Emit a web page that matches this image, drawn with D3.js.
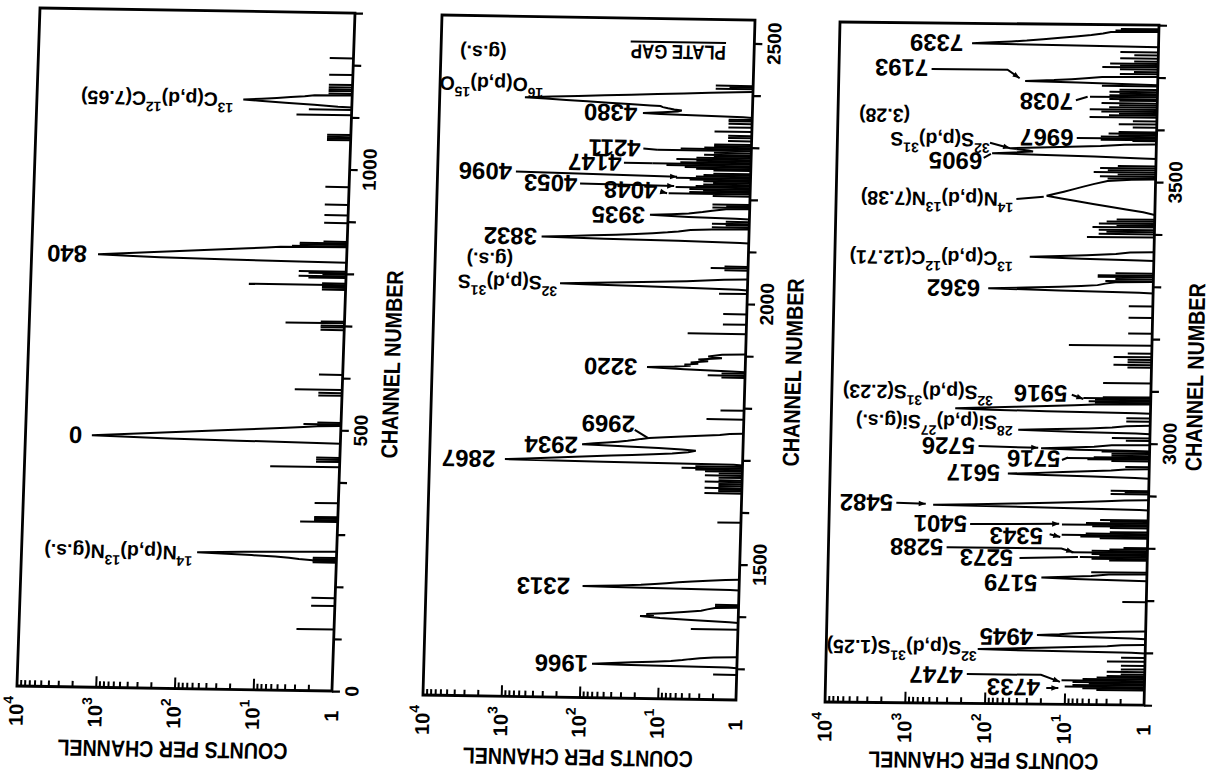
<!DOCTYPE html>
<html><head><meta charset="utf-8">
<script src="https://cdn.jsdelivr.net/npm/d3@7"></script>
<style>
html,body{margin:0;padding:0;background:#fff;}
svg{display:block;}
text{font-family:"Liberation Sans",Arial,sans-serif;font-weight:bold;fill:#000;}
</style></head><body>
<svg id="chart" width="1212" height="776"></svg>
<script>
// ---------------- DATA ----------------
// counts-axis tick values and labels
const countTicks = [1e4, 1e3, 1e2, 1e1, 1];
const countTickLabels = ["10^4", "10^3", "10^2", "10^1", "1"];
// channel tick labels per panel
const chanLabels1 = [0, 500, 1000];
const chanLabels2 = [1500, 2000, 2500];
const chanLabels3 = [3000, 3500];
// channel ranges per panel
const chanRange1 = [0, 1300];
const chanRange2 = [1240, 2545];
const chanRange3 = [2500, 3800];

// isolated channels: [channel, counts]
const spikes1 = [[118,3],[163,2],[178,2],[246,2],[249,2],[252,2],[255,2],[324,3],[327,2],[330,2],[333,2],[360,2],[429,7.6],[439,2],[443,2],[447,2],[508,2],[511,3],[514,2],[566,2],[571,2],[577,4],[606,2],[692,2],[697,2],[700,2],[705,5.6],[708,2],[769,2],[773,2],[776,2],[778,17],[781,2],[792,3],[795,4],[798,2],[801,3],[804,4],[852,5],[855,4],[858,4],[861,2],[897,2],[912,2],[932,2],[966,2],[1056,2],[1059,2],[1062,2],[1066,2],[1104,5],[1114,3.5],[1145,2],[1150,2],[1153,2],[1157,2],[1162,2],[1181,2],[1213,2]];
// peaks: runs of consecutive channels
const peaks1 = [
  [[250,2],[252,3],[254,4],[256,6],[258,12],[260,25],[262,59],[264,15],[266,3]],
  [[475,2],[477,20],[479,150],[481,500],[483,1436],[485,810],[487,460],[489,260],[491,150],[493,84],[495,48],[497,27],[499,15],[501,8.6],[503,4.9],[505,3],[507,2]],
  [[822,4],[824,30],[826,234],[828,600],[830,1436],[832,830],[834,480],[836,280],[838,160],[840,93],[842,54],[844,31],[846,18],[848,10.5],[850,7]],
  [[1120,1.5],[1123,3],[1126,7],[1129,15],[1131,24],[1133,14],[1135,9],[1137,6],[1139,4],[1141,3]]
];

const spikes2 = [[1288,2],[1375,4],[1419,2],[1422,2],[1580,2],[1636,3],[1640,2],[1643,2],[1646,3],[1650,2],[1654,2],[1658,3],[1661,2],[1666,2],[1670,3],[1674,2],[1678,3],[1681,4],[1684,6],[1687,4],[1778,3],[1795,2],[1858,2],[1862,3],[1866,2],[1942,5.6],[1960,2],[1980,2],[2019,2.3],[2064,2],[2068,3],[2071,2],[2146,3],[2150,2],[2153,3],[2157,2],[2184,3],[2187,2],[2190,3],[2206,3],[2210,11],[2213,6],[2216,4],[2219,6],[2222,9],[2225,5],[2228,4],[2231,3],[2234,4],[2237,6],[2240,9],[2243,5],[2246,4],[2249,3],[2255,3],[2258,5],[2261,7],[2264,12],[2267,18],[2270,8],[2273,5],[2276,9],[2279,5],[2282,3],[2285,4],[2289,3],[2293,16],[2296,8],[2299,4],[2302,3],[2305,3],[2312,2],[2318,2],[2322,2],[2330,3],[2338,2],[2345,2],[2350,2],[2353,2],[2412,3],[2415,2],[2418,3]];
const peaks2 = [
  [[1302,1.3],[1304,30],[1305,71],[1307,40],[1309,22],[1311,12],[1313,7],[1315,5],[1317,4],[1319,3],[1321,2]],
  [[1389,1.3],[1392,4],[1395,10],[1398,18],[1400,12],[1402,15],[1404,9],[1407,5],[1410,3],[1413,2.5],[1416,2]],
  [[1451,1.3],[1453,40],[1454,100],[1455,60],[1456,35],[1458,18],[1460,12],[1462,8.5],[1464,6],[1466,4],[1468,2.5],[1470,1.5]],
  [[1691,1.3],[1693,60],[1695,1090],[1697,580],[1699,310],[1701,170],[1703,90],[1705,48],[1707,26],[1709,14],[1711,8],[1714,5],[1717,4],[1719,6],[1721,12],[1723,30],[1725,70],[1726,114],[1728,80],[1730,55],[1732,40],[1734,30],[1736,24],[1738,20],[1740,16],[1742,10],[1744,6],[1746,3.5],[1748,2],[1750,1.5]],
  [[1870,1.5],[1873,6],[1876,18],[1878,8],[1880,5],[1882,6],[1884,4],[1886,5],[1889,3],[1892,4],[1895,2],[1898,3],[1902,2]],
  [[2027,1.3],[2029,5],[2031,25],[2033,120],[2034,249],[2036,90],[2038,35],[2040,14],[2042,6],[2044,3.5],[2046,2]],
  [[2117,1.3],[2119,8],[2121,70],[2123,445],[2125,200],[2127,100],[2129,50],[2131,28],[2133,17],[2135,11],[2137,8],[2140,5.6],[2142,3]],
  [[2163,1.5],[2165,6],[2168,18.7],[2170,10],[2172,6],[2175,4],[2178,3],[2181,2]],
  [[2358,1.3],[2360,4],[2362,15],[2363,25],[2365,14],[2367,9],[2369,8],[2371,10],[2373,12],[2375,14],[2377,15],[2378,20],[2380,38],[2382,70],[2384,130],[2386,240],[2388,440],[2390,815],[2392,370],[2394,170],[2396,78],[2398,36],[2400,16.5],[2402,7.6],[2404,3.5],[2406,1.6]]
];

const spikes3 = [[2528,4],[2531,6],[2534,10],[2537,8],[2540,5],[2543,8],[2546,11],[2549,6],[2552,4],[2555,3],[2558,2],[2563,3],[2568,2],[2575,2],[2583,3],[2590,2],[2697,2],[2753,5],[2776,3],[2779,5],[2782,7],[2785,4],[2788,5],[2791,9],[2794,5],[2797,3],[2800,2],[2818,4],[2821,7],[2824,12],[2827,6],[2830,3],[2838,3],[2841,5],[2844,12],[2847,6],[2850,3],[2853,4],[2903,3],[2906,2],[2909,3],[2955,2],[2966,3],[2969,6],[2971,11],[2973,5],[2976,3],[2980,3],[2984,4],[3005,2],[3010,3],[3042,2],[3048,2],[3077,5],[3080,6],[3083,5],[3086,7],[3088,4],[3115,4],[3145,2],[3150,3],[3155,2],[3160,2],[3165,3],[3172,2],[3187,11],[3210,2],[3240,2],[3262,2],[3310,4],[3314,3],[3318,5],[3321,5],[3325,3],[3394,7],[3400,5],[3404,4],[3408,5],[3413,6],[3416,3],[3420,5],[3424,4],[3428,3],[3506,4],[3510,5],[3514,3],[3518,6],[3522,4],[3526,5],[3530,3],[3578,2],[3580,5],[3583,10],[3586,5],[3589,3],[3592,4],[3595,3],[3604,2],[3610,3],[3616,2],[3623,7],[3627,4],[3630,3],[3634,5],[3638,7],[3642,4],[3646,3],[3650,5],[3655,3],[3658,4],[3662,7],[3665,4],[3668,3],[3672,4],[3676,3],[3683,5],[3706,3],[3710,2],[3715,3],[3719,5],[3722,3],[3726,4],[3730,2],[3736,3],[3742,2],[3748,3],[3789,3.5],[3792,3]];
const peaks3 = [
  [[2600,1.5],[2602,20],[2604,126],[2606,50],[2608,20],[2610,8],[2612,3],[2614,2]],
  [[2627,1.5],[2629,6],[2632,23],[2634,12],[2636,8],[2638,4],[2640,2]],
  [[2738,2],[2740,8],[2742,21],[2744,10],[2746,5],[2749,3]],
  [[2873,1.3],[2876,20],[2879,500],[2881,150],[2883,50],[2885,17],[2887,7],[2889,3.5],[2891,2]],
  [[2934,1.5],[2936,5],[2938,20],[2940,59],[2942,25],[2944,12],[2946,6],[2948,3],[2950,2]],
  [[2986,2],[2987,8],[2989,23],[2991,10],[2993,5],[2996,3]],
  [[3019,1.5],[3021,8],[3024,45],[3026,15],[3028,6],[3030,3],[3033,2]],
  [[3058,1.5],[3060,20],[3062,100],[3064,281],[3066,120],[3068,50],[3070,20],[3072,9],[3074,5]],
  [[3288,1.5],[3291,15],[3294,117],[3296,40],[3298,15],[3300,8],[3302,5],[3305,4],[3308,3]],
  [[3350,1.5],[3352,8],[3355,36],[3357,15],[3359,7],[3362,3],[3365,2]],
  [[3437,1],[3442,1.4],[3447,2.3],[3452,3.7],[3457,6],[3462,9.4],[3467,15],[3472,23],[3476,18],[3480,14],[3485,10.5],[3490,8],[3495,6],[3501,4],[3504,2]],
  [[3545,1.5],[3548,6],[3550,30],[3552,114],[3554,60],[3556,35],[3558,40],[3560,55],[3562,68],[3564,30],[3566,12],[3568,5],[3571,2.5]],
  [[3686,1.5],[3689,10],[3691,46],[3693,20],[3695,12],[3697,8],[3700,5]],
  [[3758,1],[3760,15],[3762,218],[3764,120],[3766,70],[3768,45],[3771,28],[3774,17],[3777,11],[3780,7],[3783,5],[3786,4]]
];

// peak labels: [text, channel, counts at the label's end, kind]  (^nn = superscript)
const labels1 = [
  ["840",830,1980,"n"],["0",483,1900,"n"],
  ["^14N(p,d)^13N(g.s.)",260,68,"r"],["^13C(p,d)^12C(7.65)",1130,32,"r"]
];
const labels2 = [
  ["1966",1305,80,"n"],["2313",1453,145,"n"],["2867",1695,1450,"n"],["2934",1724,129,"n"],["2969",1766,24.5,"n"],
  ["3220",1876,24,"n"],["^32S(p,d)^31S",2034,270,"r"],["(g.s.)",2077,1010,"r"],["3832",2123,510,"n"],["3935",2167,21.6,"n"],
  ["4048",2215,15.4,"n"],["4053",2226,163,"n"],["4096",2247,1120,"n"],["4147",2267,45,"n"],["4211",2295,26,"n"],["4380",2363,29.6,"n"],
  ["^16O(p,d)^15O",2414,480,"r"],["(g.s.)",2474,1450,"r"],["PLATE GAP",2481,2.3,"p"]
];
const labels3 = [
  ["4733",2532,20.3,"n"],["4747",2554,190,"n"],["^32S(p,d)^31S(1.25)",2606,129,"r"],["4945",2628,25.7,"n"],["5179",2731,23.5,"n"],
  ["5273",2779,48,"n"],["5288",2798,363,"n"],["5343",2821,20.6,"n"],["5401",2843,186,"n"],["5482",2882,1590,"n"],
  ["5617",2941,74,"n"],["5716",2969,13.1,"n"],["5726",2992,155,"n"],["^28Si(p,d)^27Si(g.s.)",3037,53,"r"],
  ["^32S(p,d)^31S(2.23)",3094,95,"r"],["5916",3094,11.2,"n"],["6362",3294,148,"n"],["^13C(p,d)^12C(12.71)",3351,58.5,"r"],
  ["^14N(p,d)^13N(7.38)",3464,60,"r"],["6905",3537,151,"n"],["^32S(p,d)^31S",3577,123,"r"],["(3.28)",3622,1250,"r"],
  ["6967",3583,11,"n"],["7038",3652,11.4,"n"],["7193",3714,760,"n"],["7339",3762,281,"n"]
];
// leader lines: points as [channel, counts], arrow at end
const leaders1 = [];
const leaders2 = [
  {pts:[[1755,24.5],[1740,16.6]],arrow:false},
  {pts:[[2213,14],[2210,11.5]],arrow:true},
  {pts:[[2226,150],[2224,9.4]],arrow:true},
  {pts:[[2247,1000],[2242,8.7]],arrow:true},
  {pts:[[2267,42],[2267,18]],arrow:false},
  {pts:[[2295,24],[2293,16]],arrow:false},
  {pts:[[2500,2.3],[2500,38]],arrow:false}
];
const leaders3 = [
  {pts:[[2531,17],[2531,12]],arrow:true},
  {pts:[[2556,170],[2556,20],[2543,11.5]],arrow:true},
  {pts:[[2779,40],[2782,7.4]],arrow:false},
  {pts:[[2798,330],[2798,12],[2791,8.5]],arrow:true},
  {pts:[[2825,17],[2820,12.5]],arrow:true},
  {pts:[[2843,170],[2845,13]],arrow:true},
  {pts:[[2882,1450],[2881,620]],arrow:true},
  {pts:[[2967,12.5],[2972,10.5]],arrow:false},
  {pts:[[2992,140],[2990,25]],arrow:true},
  {pts:[[3092,9.8],[3084,7]],arrow:true},
  {pts:[[3465,55],[3470,25]],arrow:false},
  {pts:[[3543,145],[3551,118]],arrow:false},
  {pts:[[3572,122],[3562,68]],arrow:true},
  {pts:[[3655,10.5],[3662,7.5]],arrow:false},
  {pts:[[3712,690],[3712,77],[3696,54]],arrow:true}
];

// ---------------- LAYOUT ----------------
const panels = [
  {W:315,H:678,m:[1,0.016,-0.034,1,40,8], dom:chanRange1, chanLabels:chanLabels1, spikes:spikes1, peaks:peaks1, labels:labels1, leaders:leaders1, cy:61, cx:49},
  {W:313,H:680,m:[1,0.016,-0.028,1,442,15], dom:chanRange2, chanLabels:chanLabels2, spikes:spikes2, peaks:peaks2, labels:labels2, leaders:leaders2, cy:60, cx:48},
  {W:319,H:680,m:[1,0.010,-0.022,1,840,22], dom:chanRange3, chanLabels:chanLabels3, spikes:spikes3, peaks:peaks3, labels:labels3, leaders:leaders3, cy:57, cx:44}
];

const svg = d3.select("#chart");
svg.append("rect").attr("width",1212).attr("height",776).attr("fill","#fff");

function richText(sel, str, size, supSize){
  const parts = str.split(/(\^\d+)/).filter(s => s.length);
  let shifted = false;
  parts.forEach(p => {
    if (p[0] === "^") {
      sel.append("tspan").attr("font-size", supSize).attr("dy", shifted ? 0 : -0.42*size).text(p.slice(1));
      shifted = true;
    } else {
      sel.append("tspan").attr("font-size", size).attr("dy", shifted ? 0.42*size : 0).text(p);
      shifted = false;
    }
  });
}

panels.forEach(P => {
  const g = svg.append("g").attr("transform", `matrix(${P.m.join(",")})`);
  const x = d3.scaleLog().domain([1, 1e4]).range([P.W, 0]);
  const y = d3.scaleLinear().domain(P.dom).range([P.H, 0]);

  // bottom (counts) axis: ticks pointing inward
  const minorTicks = x.ticks().filter(v => v > 1 && v < 1e4);
  const ax = g.append("g").attr("transform", `translate(0,${P.H})`)
    .call(d3.axisBottom(x).tickValues(minorTicks).tickSize(-6).tickFormat(""));
  ax.select(".domain").remove();
  ax.selectAll(".tick line").attr("stroke","#000").attr("stroke-width",2)
    .attr("y2", d => Math.abs(Math.log10(d) - Math.round(Math.log10(d))) < 1e-9 ? -11 : -6);

  // right (channel) axis: ticks pointing outward
  const chTicks = d3.range(Math.ceil(P.dom[0]/100)*100, P.dom[1]+1, 100);
  const ay = g.append("g").attr("transform", `translate(${P.W},0)`)
    .call(d3.axisRight(y).tickValues(chTicks).tickSize(8).tickFormat(""));
  ay.select(".domain").remove();
  ay.selectAll(".tick line").attr("stroke","#000").attr("stroke-width",2.2);

  // frame
  g.append("rect").attr("x",0).attr("y",0).attr("width",P.W).attr("height",P.H)
    .attr("fill","none").attr("stroke","#000").attr("stroke-width",2.8);

  // spectrum: single channels
  g.append("g").selectAll("line").data(P.spikes).join("line")
    .attr("x1", P.W).attr("x2", d => x(d[1]))
    .attr("y1", d => y(d[0])).attr("y2", d => y(d[0]))
    .attr("stroke","#000").attr("stroke-width",2);

  // spectrum: peaks
  const line = d3.line().x(d => x(d[1])).y(d => y(d[0]));
  g.append("g").selectAll("path").data(P.peaks).join("path")
    .attr("d", pk => line([[pk[0][0]-1, 1], ...pk, [pk[pk.length-1][0]+1, 1]]))
    .attr("fill","none").attr("stroke","#000").attr("stroke-width",2).attr("stroke-linejoin","miter");

  // leaders
  P.leaders.forEach(L => {
    const pts = L.pts.map(p => [x(p[1]), y(p[0])]);
    g.append("path").attr("d", d3.line()(pts)).attr("fill","none").attr("stroke","#000").attr("stroke-width",2);
    if (L.arrow) {
      const [x1,y1] = pts[pts.length-2], [x2,y2] = pts[pts.length-1];
      const a = Math.atan2(y2-y1, x2-x1), len = 7, hw = 2.8;
      const bx = x2 - len*Math.cos(a), by = y2 - len*Math.sin(a);
      g.append("path").attr("d", `M${x2},${y2}L${bx + hw*Math.sin(a)},${by - hw*Math.cos(a)}L${bx - hw*Math.sin(a)},${by + hw*Math.cos(a)}Z`).attr("fill","#000");
    }
  });

  // peak labels (upside down)
  P.labels.forEach(([t, ch, c, kind]) => {
    const tx = g.append("text")
      .attr("transform", `translate(${x(c)},${y(ch)}) rotate(180)`)
      .attr("text-anchor","start").attr("dominant-baseline","central");
    if (kind === "n") tx.attr("font-size",24).text(t);
    else if (kind === "p") tx.attr("font-size",20).attr("textLength",95).attr("lengthAdjust","spacingAndGlyphs").text(t);
    else richText(tx, t, 19.5, 14);
  });

  // counts tick labels (rotated -90)
  countTicks.forEach((v, i) => {
    const tx = g.append("text")
      .attr("transform", `translate(${x(v)},${P.H+25}) rotate(-90)`)
      .attr("text-anchor","middle").attr("dominant-baseline","central");
    richText(tx, countTickLabels[i], 20, 14);
  });

  // channel tick labels
  P.chanLabels.forEach(v => {
    g.append("text").attr("transform", `translate(${P.W+20},${y(v)}) rotate(-90)`)
      .attr("text-anchor","middle").attr("dominant-baseline","central").attr("font-size",19).text(v);
  });

  // axis titles
  g.append("text").attr("transform", `translate(${P.W/2},${P.H+P.cy}) rotate(180)`)
    .attr("text-anchor","middle").attr("dominant-baseline","central").attr("font-size",23)
    .attr("textLength",230).attr("lengthAdjust","spacingAndGlyphs").text("COUNTS PER CHANNEL");
  g.append("text").attr("transform", `translate(${P.W+P.cx},${P.H*0.517}) rotate(-90)`)
    .attr("text-anchor","middle").attr("dominant-baseline","central").attr("font-size",23)
    .attr("textLength",188).attr("lengthAdjust","spacingAndGlyphs").text("CHANNEL NUMBER");
});
</script>
</body></html>
